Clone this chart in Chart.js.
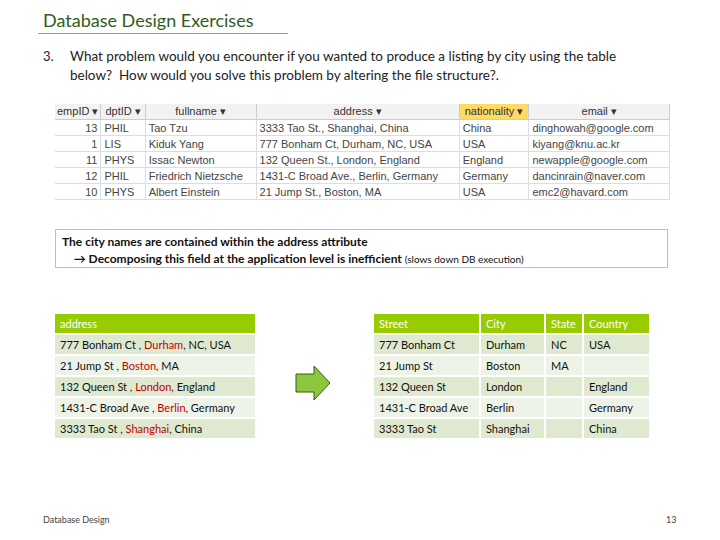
<!DOCTYPE html>
<html><head><meta charset="utf-8">
<script src="https://cdn.jsdelivr.net/npm/chart.js@4"></script>
<style>
body{margin:0;width:720px;height:540px;background:#fff;font-family:Lato,"Liberation Sans",sans-serif;position:relative;overflow:hidden}
.a{position:absolute;white-space:nowrap}
table{border-collapse:separate;border-spacing:2px;position:absolute;font-size:11px;color:#111}
td{padding:0 5px;height:19px;white-space:nowrap}
th{background:#99cc00;color:#fff;font-weight:normal;text-align:left;padding:0 5px;height:19px;white-space:nowrap}
tr.o td{background:#dfe9d0} tr.e td{background:#eef3e7}
.red{color:#c00000}
#top{left:55px;top:104px;width:615px;border-spacing:0;font-size:11px;color:#444;font-family:"Liberation Sans Narrow","Liberation Sans",sans-serif}
#top th{background:#f2f2f2;color:#333;text-align:center;height:15px;padding:0 2px;border-right:1px solid #ccc;border-bottom:1px solid #ccc}
#top td{height:15px;padding:0 3px;border-right:1px solid #ddd;border-bottom:1px solid #ddd}
</style></head><body>
<div class="a" style="left:43px;top:9px;font-size:18px;color:#2f5d1c">Database Design Exercises</div>
<div class="a" style="left:38px;top:33px;width:250px;border-top:1px solid #8aa870"></div>
<div class="a" style="left:43px;top:48px;font-size:13px;color:#222">3.</div>
<div class="a" style="left:70px;top:47px;font-size:13.5px;color:#222;line-height:19px">What problem would you encounter if you wanted to produce a listing by city using the table<br>below?&nbsp; How would you solve this problem by altering the file structure?.</div>
<table id="top"></table>
<div class="a" style="left:55px;top:229px;width:613px;height:39px;border:1px solid #b5d36b;font-size:12px;font-weight:bold;color:#111;line-height:17px;padding-left:6px;box-sizing:border-box;padding-top:3px">The city names are contained within the address attribute<br>&nbsp;&nbsp;&nbsp;&nbsp;&rarr; Decomposing this field at the application level is inefficient <span style="font-weight:normal;font-size:10px">(slows down DB execution)</span></div>
<table id="left" style="left:53px;top:312px;width:204px"></table>
<table id="right" style="left:372px;top:312px;width:279px"></table>
<canvas id="c" style="position:absolute;left:290px;top:360px" width="46" height="46"></canvas>
<div class="a" style="left:43px;top:514px;font-size:9px;color:#444">Database Design</div>
<div class="a" style="left:666px;top:514px;font-size:9px;color:#444">13</div>
<script>
const topCols=["empID","dptID","fullname","address","nationality","email"];
const empID=[13,1,11,12,10];
const dptID=["PHIL","LIS","PHYS","PHIL","PHYS"];
const fullname=["Tao Tzu","Kiduk Yang","Issac Newton","Friedrich Nietzsche","Albert Einstein"];
const address=["3333 Tao St., Shanghai, China","777 Bonham Ct, Durham, NC, USA","132 Queen St., London, England","1431-C Broad Ave., Berlin, Germany","21 Jump St., Boston, MA"];
const nationality=["China","USA","England","Germany","USA"];
const email=["dinghowah@google.com","kiyang@knu.ac.kr","newapple@google.com","dancinrain@naver.com","emc2@havard.com"];
const streets=["777 Bonham Ct","21 Jump St","132 Queen St","1431-C Broad Ave","3333 Tao St"];
const cities=["Durham","Boston","London","Berlin","Shanghai"];
const states=["NC","MA","","",""];
const countries=["USA","","England","Germany","China"];
const rightCols=["Street","City","State","Country"];

let h='<tr>'+topCols.map((c,i)=>`<th style="${i==4?'background:#ffd966':''}">${c} ▾</th>`).join('')+'</tr>';
for(let i=0;i<5;i++)h+=`<tr><td style="text-align:right;width:38px">${empID[i]}</td><td>${dptID[i]}</td><td>${fullname[i]}</td><td>${address[i]}</td><td>${nationality[i]}</td><td>${email[i]}</td></tr>`;
document.getElementById('top').innerHTML=h;
h='<tr><th>address</th></tr>';
for(let i=0;i<5;i++){const rest=[states[i],countries[i]].filter(x=>x).join(', ');
h+=`<tr class="${i%2?'e':'o'}"><td>${streets[i]} , <span class="red">${cities[i]}</span>, ${rest}</td></tr>`;}
document.getElementById('left').innerHTML=h;
h='<tr>'+rightCols.map(c=>`<th>${c}</th>`).join('')+'</tr>';
for(let i=0;i<5;i++)h+=`<tr class="${i%2?'e':'o'}"><td style="width:95px">${streets[i]}</td><td style="width:53px">${cities[i]}</td><td style="width:26px">${states[i]}</td><td>${countries[i]}</td></tr>`;
document.getElementById('right').innerHTML=h;

new Chart(document.getElementById('c'),{type:'scatter',data:{datasets:[{data:[]}]},
options:{responsive:false,animation:false,plugins:{legend:{display:false},tooltip:{enabled:false}},scales:{x:{display:false},y:{display:false}}},
plugins:[{id:'arrow',afterDraw(ch){const g=ch.ctx;g.save();g.beginPath();
g.moveTo(6,14);g.lineTo(24,14);g.lineTo(24,6);g.lineTo(40,23);g.lineTo(24,40);g.lineTo(24,32);g.lineTo(6,32);g.closePath();
g.fillStyle='#8cc63f';g.fill();g.strokeStyle='#3a5a10';g.lineWidth=1;g.stroke();g.restore();}}]});
</script>
</body></html>
